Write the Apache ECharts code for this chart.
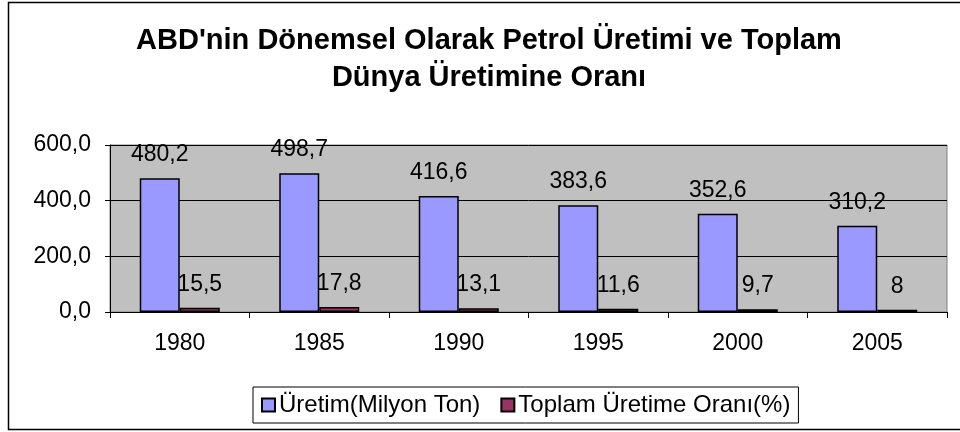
<!DOCTYPE html>
<html>
<head>
<meta charset="utf-8">
<script src="https://cdn.jsdelivr.net/npm/echarts@6/dist/echarts.min.js"></script>
<style>
  html, body { margin: 0; padding: 0; background: #fff; }
  #chart { width: 960px; height: 432px; }
</style>
</head>
<body>
<div id="chart"></div>
<script>
  // veriler
  const years = ['1980', '1985', '1990', '1995', '2000', '2005'];
  const uretim = [480.2, 498.7, 416.6, 383.6, 352.6, 310.2];
  const oran = [15.5, 17.8, 13.1, 11.6, 9.7, 8];
  const seriesNames = ['Üretim(Milyon Ton)', 'Toplam Üretime Oranı(%)'];

  const font = 'Liberation Sans, Arial, sans-serif';
  const fmt = (v) => String(v).replace('.', ',');

  const chart = echarts.init(document.getElementById('chart'));

  const labelStyle = {
    show: true,
    position: 'top',
    distance: 12,
    fontSize: 23,
    color: '#000',
    fontFamily: font,
    formatter: (p) => fmt(p.value),
  };

  const option = {
    backgroundColor: '#fff',
    animation: false,
    textStyle: { fontFamily: font, color: '#000' },
    title: {
      text: "ABD'nin Dönemsel Olarak Petrol Üretimi ve Toplam\nDünya Üretimine Oranı",
      left: 484,
      textAlign: 'center',
      top: 17,
      textStyle: { fontFamily: font, fontSize: 29, fontWeight: 'bold', color: '#000', lineHeight: 37 },
    },
    graphic: [
      {
        type: 'rect',
        shape: { x: 8.5, y: 2.5, width: 960, height: 427 },
        style: { fill: 'none', stroke: '#000', lineWidth: 1.5 },
        z: -1,
      },
    ],
    legend: {
      data: seriesNames,
      left: 253,
      top: 387,
      padding: [6, 8, 6, 8],
      itemGap: 20,
      itemWidth: 13,
      itemHeight: 13,
      icon: 'rect',
      borderColor: '#000',
      borderWidth: 1,
      textStyle: { fontFamily: font, fontSize: 24, color: '#000', padding: [0, 0, 0, -1] },
    },
    grid: {
      left: 110,
      right: 13,
      top: 145,
      bottom: 120,
      show: true,
      backgroundColor: '#C0C0C0',
      borderColor: '#808080',
      borderWidth: 1,
    },
    xAxis: {
      type: 'category',
      data: years,
      axisLine: { lineStyle: { color: '#000', width: 1 } },
      axisTick: { show: true, length: 6, lineStyle: { color: '#000' } },
      axisLabel: { fontSize: 23, color: '#000', margin: 20, fontFamily: font },
    },
    yAxis: {
      type: 'value',
      min: 0,
      max: 600,
      interval: 200,
      axisLine: { show: true, lineStyle: { color: '#000' } },
      axisTick: { show: true, length: 5, lineStyle: { color: '#000' } },
      axisLabel: {
        fontSize: 23,
        color: '#000',
        margin: 19,
        fontFamily: font,
        formatter: (v) => v.toFixed(1).replace('.', ','),
      },
      splitLine: { lineStyle: { color: '#000', width: 1 } },
    },
    series: [
      {
        name: seriesNames[0],
        type: 'bar',
        data: uretim,
        barWidth: 40,
        barGap: '0%',
        itemStyle: { color: '#9999FF', borderColor: '#000', borderWidth: 1.5 },
        label: labelStyle,
      },
      {
        name: seriesNames[1],
        type: 'bar',
        data: oran,
        barWidth: 40,
        itemStyle: { color: '#993366', borderColor: '#000', borderWidth: 1.5 },
        label: labelStyle,
      },
    ],
  };

  chart.setOption(option);
</script>
</body>
</html>
